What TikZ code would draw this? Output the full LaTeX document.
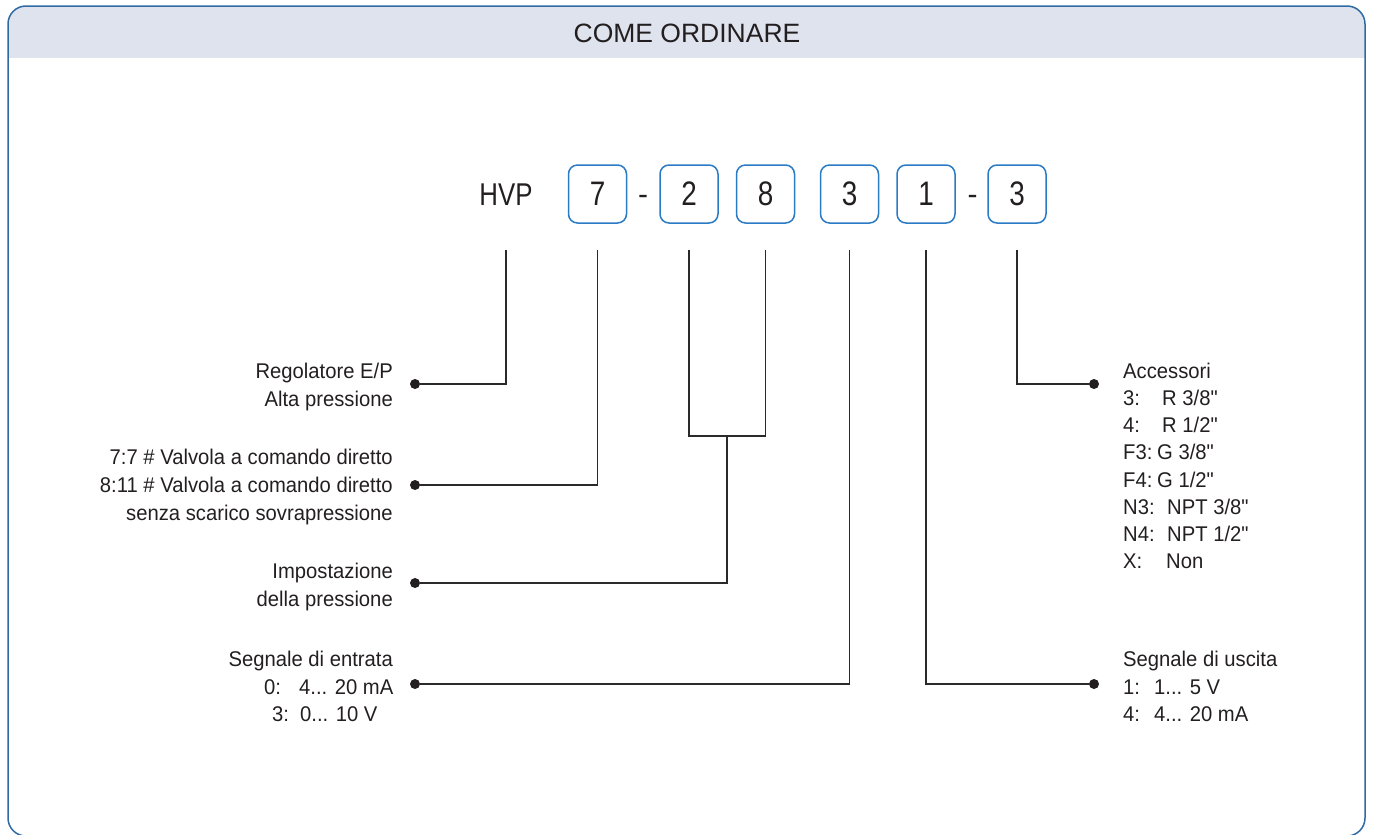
\documentclass[tikz,border=0pt]{standalone}
\usepackage{fontspec}
\setmainfont{Liberation Sans}
\newfontfamily\bodyfont[FakeStretch=0.95]{Liberation Sans}
\newfontfamily\condfont[FakeStretch=0.82]{Liberation Sans}
\definecolor{framec}{HTML}{2F6AA3}
\definecolor{hdr}{HTML}{DFE3EE}
\definecolor{boxc}{HTML}{2A7BC4}
\definecolor{txt}{HTML}{231F20}
\definecolor{linec}{HTML}{2A2A2A}
\newcommand{\qq}{\symbol{34}}
\begin{document}
\begin{tikzpicture}[x=1pt,y=-1pt,
  lbl/.style={font=\bodyfont\fontsize{21.3}{24}\selectfont, inner sep=0pt, text=txt},
  ttl/.style={font=\fontsize{26.5}{30}\selectfont, inner sep=0pt, text=txt},
  code/.style={font=\condfont\fontsize{31.5}{34}\selectfont, inner sep=0pt, text=txt},
  hyph/.style={font=\fontsize{30}{34}\selectfont, inner sep=0pt, text=txt},
  digbox/.style={draw=boxc, line width=1.5pt, rounded corners=9pt, minimum width=58pt, minimum height=58pt, inner sep=0pt, text=txt, font=\condfont\fontsize{34}{36}\selectfont},
  conn/.style={draw=linec, line width=1.3pt},
  dot/.style={circle, fill=txt, inner sep=0pt, minimum size=10pt}]
\useasboundingbox (0,0) rectangle (1373,835);
% frame and header
\begin{scope}
  \clip[rounded corners=18pt] (8,840) rectangle (1365,6);
  \fill[hdr] (8,6) rectangle (1365,58);
\end{scope}
\draw[framec, line width=1.5pt, rounded corners=18pt] (8,836) rectangle (1365,6);
\node[ttl, anchor=base] (title) at (687,42) {COME ORDINARE};
% code
\node[code, anchor=base] (hvp) at (506,205) {HVP};
\node[digbox] (b7) at (597.5,194) {7};
\node[hyph, anchor=base] (h1) at (643,204) {-};
\node[digbox] (b2) at (689,194) {2};
\node[digbox] (b8) at (765.5,194) {8};
\node[digbox] (b3) at (849.5,194) {3};
\node[digbox] (b1) at (926,194) {1};
\node[hyph, anchor=base] (h2) at (972.5,204) {-};
\node[digbox] (b3x) at (1017,194) {3};
\coordinate (top) at (0,250);
\coordinate (j) at (727,436);
% dots
\node[dot] (d1) at (415,384) {};
\node[dot] (d2) at (415,485) {};
\node[dot] (d3) at (415,583) {};
\node[dot] (d4) at (415,684) {};
\node[dot] (e1) at (1094,384) {};
\node[dot] (e2) at (1094,684) {};
% connectors
\draw[conn] (hvp |- top) |- (d1);
\draw[conn] (b7 |- top) |- (d2);
\draw[conn] (b2 |- top) |- (b8 |- j) -- (b8 |- top);
\draw[conn] (j) |- (d3);
\draw[conn] (b3 |- top) |- (d4);
\draw[conn] (b1 |- top) |- (e2);
\draw[conn] (b3x |- top) |- (e1);
% left labels
\node[lbl, anchor=base east] (l1a) at (393,378) {Regolatore E/P};
\node[lbl, anchor=base east] (l1b) at (393,406) {Alta pressione};
\node[lbl, anchor=base east] (l2a) at (393,464) {7:7 \# Valvola a comando diretto};
\node[lbl, anchor=base east] (l2b) at (393,492) {8:11 \# Valvola a comando diretto};
\node[lbl, anchor=base east] (l2c) at (393,520) {senza scarico sovrapressione};
\node[lbl, anchor=base east] (l3a) at (393,578) {Impostazione};
\node[lbl, anchor=base east] (l3b) at (393,606) {della pressione};
\node[lbl, anchor=base east] (l4a) at (393,666) {Segnale di entrata};
\node[lbl, anchor=base west] (l4bk) at (264,694) {0:};
\node[lbl, anchor=base west] (l4bv) at (299,694) {4... 20 mA};
\node[lbl, anchor=base west] (l4ck) at (272,721) {3:};
\node[lbl, anchor=base west] (l4cv) at (300,721) {0... 10 V};
% right labels
\node[lbl, anchor=base west] (r1) at (1123,378) {Accessori};
\node[lbl, anchor=base west] (r2k) at (1123,405) {3:};
\node[lbl, anchor=base west] (r2v) at (1162,405) {R 3/8\qq};
\node[lbl, anchor=base west] (r3k) at (1123,432) {4:};
\node[lbl, anchor=base west] (r3v) at (1162,432) {R 1/2\qq};
\node[lbl, anchor=base west] (r4k) at (1123,459) {F3:};
\node[lbl, anchor=base west] (r4v) at (1157,459) {G 3/8\qq};
\node[lbl, anchor=base west] (r5k) at (1123,487) {F4:};
\node[lbl, anchor=base west] (r5v) at (1157,487) {G 1/2\qq};
\node[lbl, anchor=base west] (r6k) at (1123,514) {N3:};
\node[lbl, anchor=base west] (r6v) at (1167,514) {NPT 3/8\qq};
\node[lbl, anchor=base west] (r7k) at (1123,541) {N4:};
\node[lbl, anchor=base west] (r7v) at (1167,541) {NPT 1/2\qq};
\node[lbl, anchor=base west] (r8k) at (1123,568) {X:};
\node[lbl, anchor=base west] (r8v) at (1166,568) {Non};
\node[lbl, anchor=base west] (s1) at (1123,666) {Segnale di uscita};
\node[lbl, anchor=base west] (s2k) at (1123,694) {1:};
\node[lbl, anchor=base west] (s2v) at (1154,694) {1... 5 V};
\node[lbl, anchor=base west] (s3k) at (1123,721) {4:};
\node[lbl, anchor=base west] (s3v) at (1154,721) {4... 20 mA};
\end{tikzpicture}
\end{document}
